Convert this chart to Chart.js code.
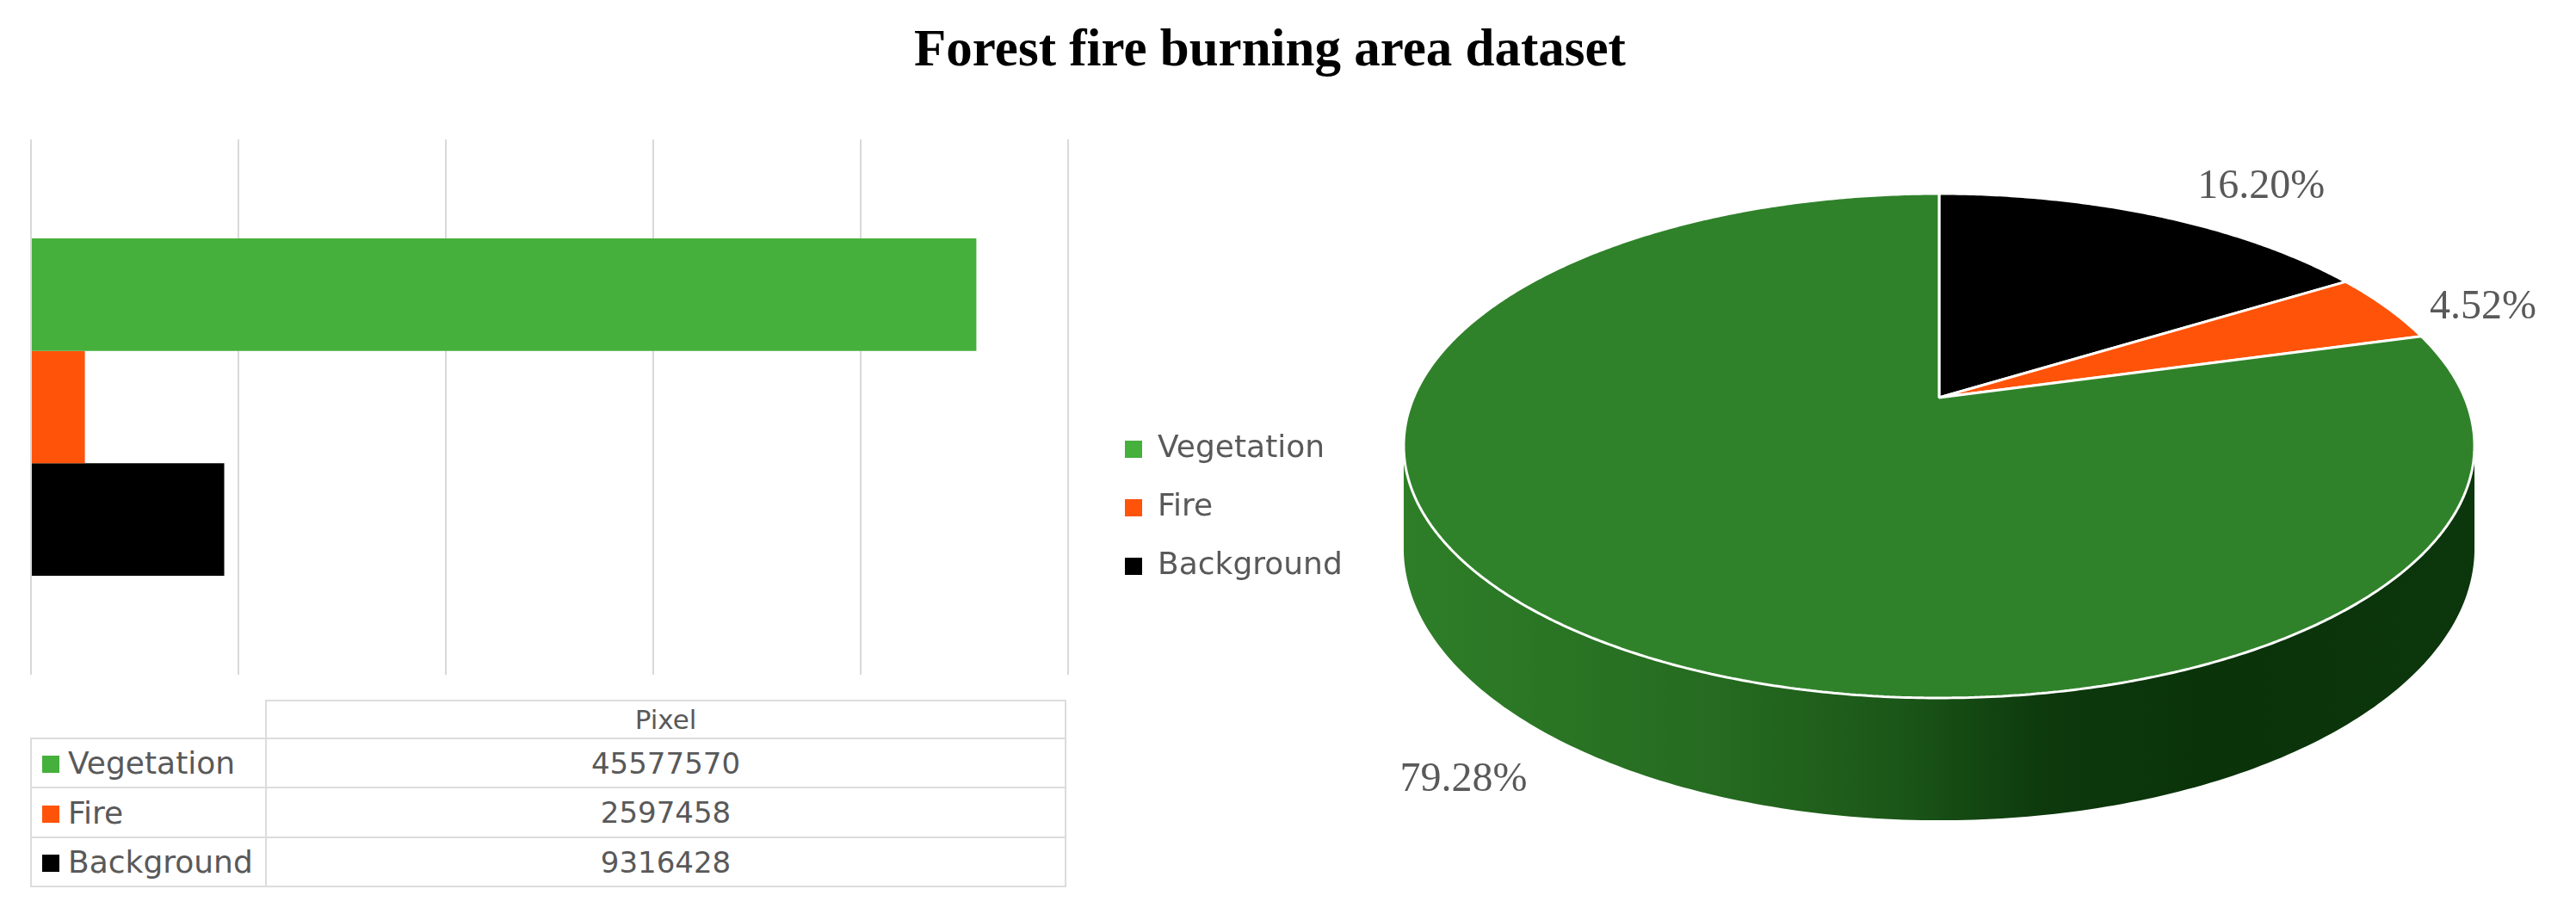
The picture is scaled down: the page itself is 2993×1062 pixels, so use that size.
<!DOCTYPE html>
<html>
<head>
<meta charset="utf-8">
<script src="https://cdn.jsdelivr.net/npm/chart.js@4.4.1/dist/chart.umd.min.js"></script>
<style>
  html, body { margin: 0; padding: 0; background: #fff; width: 2993px; height: 1062px; overflow: hidden; position: relative; }
  #title { position: absolute; left: -21px; top: 20px; width: 2993px; margin: 0; text-align: center;
           font: bold 61px "Liberation Serif", serif; line-height: 72px; color: #000; }
  #barWrap { position: absolute; left: 0; top: 140px; width: 1260px; height: 660px; }
  #pieWrap { position: absolute; left: 1260px; top: 140px; width: 1733px; height: 900px; }
  #tbl { position: absolute; left: 35px; top: 813px; border-collapse: collapse; table-layout: fixed;
         font-family: "DejaVu Sans", sans-serif; color: #595959; }
  #tbl td { border: 2px solid #dcdcdc; padding: 0; vertical-align: middle; white-space: nowrap; }
  #tbl td.blank { border-top: none; border-left: none; }
  #tbl td.lab { font-size: 36px; padding-left: 12px; }
  #tbl td.val { font-size: 34px; text-align: center; }
  #tbl tr.hdr td.val { font-size: 31px; }
  #tbl .sw { display: inline-block; width: 20px; height: 20px; margin-right: 10px; vertical-align: 1px; }
</style>
</head>
<body>
<h1 id="title"></h1>
<div id="barWrap"><canvas id="bar" width="1260" height="660"></canvas></div>
<div id="pieWrap"><canvas id="pie" width="1733" height="900"></canvas></div>
<table id="tbl"><colgroup><col style="width:273px"><col style="width:929px"></colgroup><tbody id="tbody"></tbody></table>
<script>
// ---------- data ----------
const chartTitle = 'Forest fire burning area dataset';
const categories = ['Vegetation', 'Fire', 'Background'];
const pixelValues = [45577570, 2597458, 9316428];
const seriesName = 'Pixel';
const xAxisMin = 0;
const xAxisMax = 50000000;
const xAxisStep = 10000000;
const pieOrder = ['Background', 'Fire', 'Vegetation']; // slices clockwise from 12 o'clock

// ---------- styles ----------
const barColors = { Vegetation: '#46b03c', Fire: '#ff5309', Background: '#000000' };
const pieTopColors = { Vegetation: '#30822a', Fire: '#ff5309', Background: '#000000' };
const pieSideDark = { Vegetation: '#0a330a', Fire: '#6a2204', Background: '#000000' };

Chart.defaults.font.family = '"DejaVu Sans", sans-serif';
Chart.defaults.color = '#595959';

document.getElementById('title').textContent = chartTitle;

// ---------- data table (acts as bar chart axis) ----------
(function () {
  let html = '<tr class="hdr" style="height:44px"><td class="blank"></td><td class="val">' + seriesName + '</td></tr>';
  const heights = [57, 58, 57];
  categories.forEach((c, i) => {
    html += '<tr style="height:' + heights[i] + 'px"><td class="lab"><span class="sw" style="background:' + barColors[c] +
      '"></span>' + c + '</td><td class="val">' + pixelValues[i] + '</td></tr>';
  });
  document.getElementById('tbody').innerHTML = html;
})();

// ---------- bar chart ----------
new Chart(document.getElementById('bar'), {
  type: 'bar',
  data: {
    labels: [seriesName],
    datasets: categories.map((c, i) => ({
      label: c,
      data: [pixelValues[i]],
      backgroundColor: barColors[c],
      borderWidth: 0,
      categoryPercentage: 0.63,
      barPercentage: 1.0
    }))
  },
  options: {
    indexAxis: 'y',
    responsive: false,
    animation: false,
    devicePixelRatio: 1,
    layout: { padding: { left: 36, right: 19, top: 22, bottom: 16 } },
    plugins: { legend: { display: false }, tooltip: { enabled: false } },
    scales: {
      x: {
        min: xAxisMin, max: xAxisMax,
        ticks: { display: false, stepSize: xAxisStep },
        grid: { color: '#d9d9d9', lineWidth: 2, drawTicks: false },
        border: { display: false }
      },
      y: { display: false }
    }
  }
});

// ---------- 3D pie (perspective projection of the library's arcs) ----------
function hexToRgb(h) { h = h.replace('#', ''); return [0, 2, 4].map(k => parseInt(h.substr(k, 2), 16)); }
function mix(a, b, t) {
  const A = hexToRgb(a), B = hexToRgb(b);
  return 'rgb(' + A.map((v, k) => Math.round(v + (B[k] - v) * t)).join(',') + ')';
}

const total = pixelValues.reduce((a, b) => a + b, 0);
const pieValues = pieOrder.map(c => pixelValues[categories.indexOf(c)]);
const TAU = Math.PI * 2;

function makeProjector(arc, o) {
  const R = arc.outerRadius, ax = arc.x, ay = arc.y;
  return function (x, y, h) {
    const u = (x - ax) / R, v = (y - ay) / R;
    const w = 1 - o.persp * v;
    return [o.x0 + o.a * u / w, o.y0 + (o.b * v + (h || 0)) / w];
  };
}

const pie3d = {
  id: 'pie3d',
  beforeDatasetsDraw(chart, args, o) {
    const ctx = chart.ctx;
    const meta = chart.getDatasetMeta(0);
    const ref = meta.data[0];
    const proj = makeProjector(ref, o);
    const R = ref.outerRadius, ax = ref.x, ay = ref.y;
    const tMin = Math.asin(o.persp), tMax = Math.PI - tMin;
    const gx0 = proj(ax - R * Math.cos(tMin), ay + R * Math.sin(tMin))[0];
    const gx1 = proj(ax + R * Math.cos(tMin), ay + R * Math.sin(tMin))[0];
    // side walls (visible front part)
    meta.data.forEach((arc, i) => {
      const cat = pieOrder[i];
      const top = pieTopColors[cat], dark = pieSideDark[cat];
      for (let k = -1; k <= 1; k++) {
        const lo = Math.max(arc.startAngle, tMin + TAU * k);
        const hi = Math.min(arc.endAngle, tMax + TAU * k);
        if (hi <= lo) continue;
        const n = 200;
        ctx.save();
        ctx.beginPath();
        for (let j = 0; j <= n; j++) {
          const t = lo + (hi - lo) * j / n;
          const p = proj(ax + R * Math.cos(t), ay + R * Math.sin(t), 0);
          if (j === 0) ctx.moveTo(p[0], p[1]); else ctx.lineTo(p[0], p[1]);
        }
        for (let j = n; j >= 0; j--) {
          const t = lo + (hi - lo) * j / n;
          const p = proj(ax + R * Math.cos(t), ay + R * Math.sin(t), o.depth);
          ctx.lineTo(p[0], p[1]);
        }
        ctx.closePath();
        const g = ctx.createLinearGradient(gx0, 0, gx1, 0);
        g.addColorStop(0, mix(top, dark, 0.05));
        g.addColorStop(0.3, mix(top, dark, 0.3));
        g.addColorStop(0.46, mix(top, dark, 0.55));
        g.addColorStop(0.6, mix(top, dark, 0.92));
        g.addColorStop(0.75, mix(top, dark, 1));
        g.addColorStop(1, mix(top, dark, 0.96));
        ctx.fillStyle = g;
        ctx.fill();
        ctx.restore();
      }
    });
    // route the library's arc paths through the projection
    const orig = { arc: ctx.arc, lineTo: ctx.lineTo, moveTo: ctx.moveTo };
    ctx.moveTo = function (x, y) { const p = proj(x, y); orig.moveTo.call(ctx, p[0], p[1]); };
    ctx.lineTo = function (x, y) { const p = proj(x, y); orig.lineTo.call(ctx, p[0], p[1]); };
    ctx.arc = function (x, y, r, a0, a1, ccw) {
      if (![x, y, r, a0, a1].every(Number.isFinite)) return;
      let d = ccw ? a0 - a1 : a1 - a0;
      if (d >= TAU) d = TAU; else { d = d % TAU; if (d < 0) d += TAU; }
      const dir = ccw ? -1 : 1;
      const n = Math.max(2, Math.ceil(d / TAU * 720));
      for (let j = 0; j <= n; j++) {
        const t = a0 + dir * d * j / n;
        const p = proj(x + r * Math.cos(t), y + r * Math.sin(t));
        orig.lineTo.call(ctx, p[0], p[1]);
      }
    };
  },
  afterDatasetsDraw(chart, args, o) {
    const ctx = chart.ctx;
    delete ctx.arc; delete ctx.lineTo; delete ctx.moveTo;
    const meta = chart.getDatasetMeta(0);
    const ref = meta.data[0];
    const proj = makeProjector(ref, o);
    ctx.save();
    ctx.font = o.labelFont;
    ctx.fillStyle = o.labelColor;
    ctx.textAlign = 'center';
    ctx.textBaseline = 'middle';
    meta.data.forEach((arc, i) => {
      const t = (arc.startAngle + arc.endAngle) / 2;
      const r = arc.outerRadius * o.labelRadius;
      const s = Math.sin(t);
      const p = proj(arc.x + r * Math.cos(t), arc.y + r * s, s > 0 ? o.depth : 0);
      const n = o.labelNudge[i] || [0, 0];
      const txt = (pieValues[i] / total * 100).toFixed(2) + '%';
      ctx.fillText(txt, p[0] + n[0], p[1] + n[1]);
    });
    ctx.restore();
  }
};

new Chart(document.getElementById('pie'), {
  type: 'pie',
  data: {
    labels: pieOrder,
    datasets: [{
      data: pieValues,
      backgroundColor: pieOrder.map(c => pieTopColors[c]),
      borderColor: '#ffffff',
      borderWidth: 3
    }]
  },
  options: {
    responsive: false,
    animation: false,
    devicePixelRatio: 1,
    layout: { padding: { left: 15, right: 0, top: 0, bottom: 0 } },
    plugins: {
      tooltip: { enabled: false },
      legend: {
        position: 'left',
        reverse: true,
        labels: {
          boxWidth: 20, boxHeight: 20, padding: 32,
          color: '#595959',
          font: { size: 36, family: '"DejaVu Sans", sans-serif' },
          generateLabels(chart) {
            const items = Chart.overrides.pie.plugins.legend.labels.generateLabels(chart);
            items.forEach(it => {
              const c = pieOrder[it.index];
              it.fillStyle = barColors[c];
              it.strokeStyle = barColors[c];
              it.lineWidth = 0;
            });
            return items;
          }
        }
      },
      pie3d: {
        x0: 993, y0: 322, a: 610.6, b: 282.3, persp: 0.191, depth: 115,
        labelRadius: 1.15,
        labelNudge: [[87, -7], [40, 15], [-37, -8]],
        labelFont: '48px "Liberation Serif", serif',
        labelColor: '#595959'
      }
    }
  },
  plugins: [pie3d]
});
</script>
</body>
</html>
